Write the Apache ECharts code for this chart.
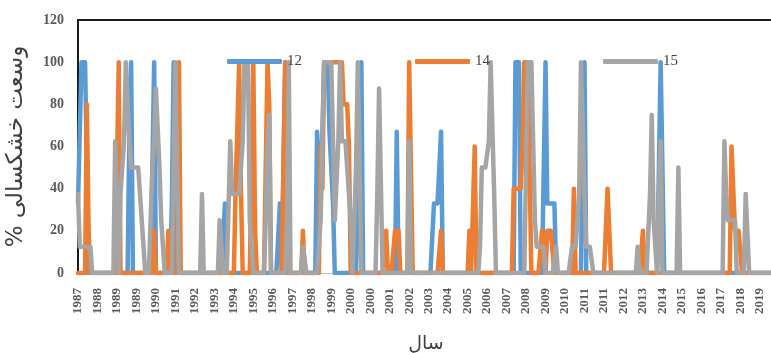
<!DOCTYPE html>
<html>
<head>
<meta charset="utf-8">
<script src="https://cdn.jsdelivr.net/npm/echarts@6/dist/echarts.min.js"></script>
<style>html,body{margin:0;padding:0;background:#fff}#c{width:771px;height:353px}</style>
</head>
<body>
<div id="c"></div>
<script>
// Tick labels shown every 11 months on the category (month) axis
var tickLabels = ['1987','1988','1989','1989','1990','1991','1992','1993','1994','1995','1996','1997','1998','1999','2000','2000','2001','2002','2003','2004','2005','2006','2007','2008','2009','2010','2011','2011','2012','2013','2014','2015','2016','2017','2018','2019'];
var startYear = 1987, startMonth = 3, monthCount = 394;
var seriesNames = ['12', '14', '15'];

// Series "12" (rows of 11 months)
var s12 = [
33,67,100,100,100,100,0,0,0,0,0,
0,0,0,0,0,0,0,0,0,0,0,
0,0,0,0,0,0,0,67,100,0,0,
0,0,0,0,0,0,0,0,0,0,100,
0,0,0,0,0,0,0,0,0,33,100,
0,0,0,0,0,0,0,0,0,0,0,
0,0,0,0,0,0,0,0,0,0,0,
0,0,0,0,0,0,33,0,0,0,0,
0,0,0,0,0,0,0,0,0,0,0,
0,0,0,0,0,0,0,0,0,0,0,
0,0,0,0,33,0,0,100,0,0,0,
0,0,0,0,0,0,0,0,0,0,0,
0,0,0,67,67,33,67,100,100,100,67,
67,33,0,0,0,0,0,0,0,0,0,
0,0,0,0,0,67,100,0,0,0,0,
0,0,0,0,0,0,0,0,0,0,0,
0,0,0,0,67,0,0,0,0,0,0,
0,0,0,0,0,0,0,0,0,0,0,
0,0,0,33,33,33,33,67,0,0,0,
0,0,0,0,0,0,0,0,0,0,0,
0,0,0,0,0,0,0,0,0,0,0,
0,0,0,0,0,0,0,0,0,0,0,
0,0,0,0,0,100,100,100,0,0,0,
0,0,0,0,0,0,0,0,0,0,0,
100,33,33,33,33,33,0,0,0,0,0,
0,0,0,0,0,0,0,0,0,0,67,
100,0,0,0,0,0,0,0,0,0,0,
0,0,0,0,0,0,0,0,0,0,0,
0,0,0,0,0,0,0,0,0,0,0,
0,0,0,0,0,0,0,0,0,0,100,
100,0,0,0,0,0,0,0,0,0,0,
0,0,0,0,0,0,0,0,0,0,0,
0,0,0,0,0,0,0,0,0,0,0,
0,0,0,0,0,0,0,0,0,0,0,
0,0,0,0,0,0,0,0,0,0,0,
0,0,0,0,0,0,0,0,0
];

// Series "14"
var s14 = [
0,0,0,0,0,80,20,0,0,0,0,
0,0,0,0,0,0,0,0,0,0,0,
0,100,0,0,0,0,0,0,0,0,0,
0,0,0,0,0,0,0,0,0,0,20,
0,0,0,0,0,0,0,20,0,0,0,
0,0,100,0,0,0,0,0,0,0,0,
0,0,0,0,0,0,0,0,0,0,0,
0,0,0,0,0,0,0,0,0,0,0,
0,40,40,100,40,0,0,0,0,0,0,
100,20,0,0,0,0,0,0,100,80,0,
0,0,0,0,0,0,0,100,0,0,0,
0,0,0,0,0,0,20,0,0,0,0,
0,0,0,0,0,60,40,100,100,100,100,
100,100,100,100,100,100,100,80,80,80,60,
0,0,0,0,0,0,0,0,0,0,0,
0,0,0,0,0,0,0,0,0,20,0,
0,0,0,20,20,20,0,0,0,0,0,
100,100,0,0,0,0,0,0,0,0,0,
0,0,0,0,0,0,0,20,0,0,0,
0,0,0,0,0,0,0,0,0,0,0,
0,20,0,0,60,0,0,0,0,0,0,
0,0,0,0,0,0,0,0,0,0,0,
0,0,0,0,40,40,40,40,40,60,100,
100,100,100,0,0,0,0,0,0,20,20,
0,20,20,20,20,0,0,0,0,0,0,
0,0,0,0,0,40,0,0,0,0,0,
0,0,0,0,0,0,0,0,0,0,0,
0,0,40,40,0,0,0,0,0,0,0,
0,0,0,0,0,0,0,0,0,0,0,
20,0,0,0,0,0,0,0,0,0,0,
0,0,0,0,0,0,0,0,0,0,0,
0,0,0,0,0,0,0,0,0,0,0,
0,0,0,0,0,0,0,0,0,0,0,
0,0,0,0,0,0,60,60,20,20,20,
20,0,0,0,0,0,0,0,0,0,0,
0,0,0,0,0,0,0,0,0
];

// Series "15"
var s15 = [
37.5,12.5,12.5,12.5,12.5,12.5,12.5,12.5,0,0,0,
0,0,0,0,0,0,0,0,0,0,62.5,
25,0,37.5,37.5,62.5,100,100,62.5,50,50,50,
50,50,37.5,25,12.5,0,0,0,0,50,62.5,
87.5,87.5,50,25,25,0,0,0,0,0,50,
100,100,0,0,0,0,0,0,0,0,0,
0,0,0,0,37.5,0,0,0,0,0,0,
0,0,0,25,25,0,0,0,0,62.5,37.5,
37.5,37.5,37.5,37.5,37.5,62.5,100,100,100,25,12.5,
0,0,0,0,0,0,0,25,62.5,75,0,
0,0,0,0,0,0,0,0,25,100,0,
0,0,0,0,0,0,12.5,12.5,0,0,0,
0,0,0,0,0,25,62.5,100,100,100,100,
100,100,25,25,62.5,100,62.5,62.5,62.5,50,50,
25,0,0,50,100,100,0,0,0,0,0,
0,0,0,0,37.5,87.5,87.5,0,0,0,0,
0,0,0,0,0,0,0,0,0,0,0,
62.5,0,0,0,0,0,0,0,0,0,0,
0,0,0,0,0,0,0,0,0,0,0,
0,0,0,0,0,0,0,0,0,0,0,
0,0,0,0,0,0,0,12.5,50,50,50,
50,62.5,100,100,37.5,0,0,0,0,0,0,
0,0,0,0,0,0,0,0,0,0,0,
0,100,100,100,62.5,25,12.5,12.5,12.5,12.5,12.5,
0,0,0,0,0,0,12.5,0,0,0,0,
0,0,0,0,12.5,12.5,12.5,12.5,37.5,100,100,
37.5,12.5,12.5,12.5,12.5,0,0,0,0,0,0,
0,0,0,0,0,0,0,0,0,0,0,
0,0,0,0,0,0,0,0,12.5,0,0,
0,0,0,0,37.5,75,25,12.5,0,37.5,62.5,
0,0,0,0,0,0,0,0,0,50,0,
0,0,0,0,0,0,0,0,0,0,0,
0,0,0,0,0,0,0,0,0,0,0,
0,0,62.5,37.5,25,25,25,25,25,0,0,
0,0,0,37.5,37.5,0,0,0,0,0,0,
0,0,0,0,0,0,0,0,0
];

var months = [];
for (var i = 0; i < monthCount; i++) {
  var m = startMonth - 1 + i;
  var y = startYear + Math.floor(m / 12);
  var mm = (m % 12) + 1;
  months.push(y + '-' + (mm < 10 ? '0' + mm : mm));
}

var colors = ['#5B9BD5', '#ED7D31', '#A5A5A5'];
var chart = echarts.init(document.getElementById('c'), null, {renderer: 'canvas'});

function mkSeries(name, data, color) {
  return {
    name: name, type: 'line', data: data, xAxisIndex: 0, yAxisIndex: 0,
    showSymbol: false, symbol: 'none', animation: false,
    itemStyle: {color: color},
    lineStyle: {width: 4.5, color: color, cap: 'round', join: 'round'}
  };
}

chart.setOption({
  animation: false,
  color: colors,
  grid: {left: 78, right: -3, top: 20, bottom: 80, containLabel: false, outerBoundsMode: 'none'},
  legend: {
    data: seriesNames, left: 222, top: 49, itemWidth: 55, itemHeight: 5, itemGap: 113,
    icon: 'roundRect',
    textStyle: {fontFamily: 'Liberation Serif', fontSize: 15, color: '#404040'}
  },
  xAxis: [{
    type: 'category', data: months, boundaryGap: false, position: 'bottom',
    axisLine: {show: true, lineStyle: {color: '#bfbfbf', width: 1}},
    axisTick: {show: false},
    axisLabel: {
      interval: 10, rotate: 90, margin: 15,
      fontFamily: 'Liberation Serif', fontSize: 13, fontWeight: 'bold', color: '#595959',
      formatter: function (v, idx) { return tickLabels[Math.round(idx / 11)] || ''; }
    },
    name: 'سال', nameLocation: 'middle', nameGap: 62,
    nameTextStyle: {fontFamily: 'DejaVu Sans', fontSize: 19, color: '#404040'}
  }, {
    type: 'category', data: months, boundaryGap: false, position: 'top',
    axisLine: {show: true, lineStyle: {color: '#1a1a1a', width: 2}},
    axisTick: {show: false}, axisLabel: {show: false}
  }],
  yAxis: {
    type: 'value', min: 0, max: 120, interval: 20,
    axisLine: {show: true, lineStyle: {color: '#1a1a1a', width: 2}},
    axisTick: {show: false},
    splitLine: {show: false},
    axisLabel: {margin: 14, fontFamily: 'Liberation Serif', fontSize: 14, fontWeight: 'bold', color: '#595959'},
    name: '% وسعت خشکسالی', nameLocation: 'middle', nameGap: 50, nameRotate: 90,
    nameTextStyle: {fontFamily: 'DejaVu Sans', fontSize: 23, color: '#404040'}
  },
  series: [
    mkSeries(seriesNames[0], s12, colors[0]),
    mkSeries(seriesNames[1], s14, colors[1]),
    mkSeries(seriesNames[2], s15, colors[2])
  ]
});
</script>
</body>
</html>
